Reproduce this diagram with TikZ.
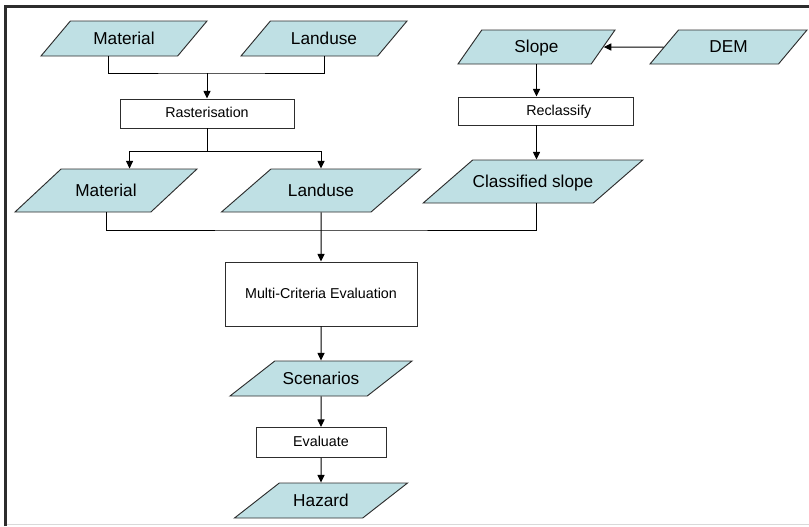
\documentclass[tikz,border=0pt]{standalone}
\usepackage{fontspec}
\setmainfont{Liberation Sans}
\usetikzlibrary{shapes.geometric, arrows.meta, positioning}
\definecolor{datafill}{RGB}{191,224,228}
\definecolor{edgegray}{RGB}{45,45,45}

\begin{document}
\begin{tikzpicture}[x=0.03cm, y=-0.03cm, node distance=2cm, on grid,
    data/.style={trapezium, trapezium stretches body, trapezium left angle=50,
      trapezium right angle=130, draw=edgegray, fill=datafill, line width=0.8pt,
      inner xsep=0pt, inner ysep=0.29cm, text height=0.4cm, text depth=0.07cm,
      font=\fontsize{14.7}{17}\selectfont},
    tall/.style={inner ysep=0.41cm},
    proc/.style={rectangle, draw=edgegray, fill=white, line width=0.8pt,
      inner sep=0pt, text height=0.31cm, text depth=0.07cm,
      font=\fontsize{12.2}{14}\selectfont},
    link/.style={line width=0.85pt},
    arr/.style={link, -{Triangle[length=6.5pt, width=6pt]}}]
    \useasboundingbox (0,0) rectangle (809,526);
    % frame
    \draw[gray!30, line width=0.6pt] (5,524) -- (809,524);
    \draw[edgegray, line width=2.2pt] (5.5,526) -- (5.5,6.3) -- (809,6.3);

    \node (mat1) [data, minimum width=4.98cm] at (124,38.5) {Material};
    \node (land1) [data, minimum width=4.98cm, right = 6cm of mat1] {Landuse};
    \node (slope) [data, trapezium left angle=55, trapezium right angle=125,
      inner ysep=0.275cm, minimum width=4.71cm] at (536.5,47) {Slope};
    \node (dem) [data, inner ysep=0.275cm, minimum width=4.71cm, right = 5.76cm of slope] {DEM};
    \node (rast) [proc, minimum width=5.22cm, minimum height=0.87cm] at (207,113.5) {Rasterisation};
    \node (recl) [proc, minimum width=5.25cm, minimum height=0.84cm] at (545.5,111) {\hspace*{0.8cm}Reclassify};
    \node (mat2) [data, tall, trapezium left angle=43, trapezium right angle=137,
      minimum width=5.46cm] at (106,190.5) {Material};
    \node (land2) [data, tall, trapezium left angle=41, trapezium right angle=139,
      minimum width=5.97cm] at (321,190.5) {Landuse};
    \node (cls) [data, tall, trapezium left angle=41, trapezium right angle=139,
      minimum width=5.97cm] at (533,181.5) {Classified slope};
    \node (mce) [proc, minimum width=5.76cm, minimum height=1.92cm, below = 3.105cm of land2] {Multi-Criteria Evaluation};
    \node (scen) [data, trapezium left angle=38, trapezium right angle=142,
      minimum width=5.46cm, below = 2.535cm of mce] {Scenarios};
    \node (eval) [proc, minimum width=3.9cm, minimum height=0.9cm, below = 1.92cm of scen] {Evaluate};
    \node (haz) [data, trapezium left angle=38, trapezium right angle=142,
      minimum width=5.19cm, below = 1.74cm of eval] {Hazard};

    \coordinate (j1) at (207,73);
    \coordinate (j2) at (207,151);
    \coordinate (j3) at (321,230);

    \draw [link] (mat1.bottom side) |- (j1) -| (land1.south);
    \draw [arr] (j1) -- (rast.north);
    \draw [link] (rast.south) -- (j2);
    \draw [arr] (j2) -| (mat2.top side);
    \draw [arr] (j2) -| (land2.north);
    \draw [arr] (dem.west) -- (slope.east);
    \draw [arr] (slope.south) -- (slope.south |- recl.north);
    \draw [arr] (recl.south -| slope.south) -- (cls.north -| slope.south);
    \draw [link] (mat2.south) |- (j3) -| (cls.south -| slope.south);
    \draw [arr] (land2.south) -- (mce.north);
    \draw [arr] (mce.south) -- (scen.north);
    \draw [arr] (scen.south) -- (eval.north);
    \draw [arr] (eval.south) -- (haz.north);
\end{tikzpicture}
\end{document}
